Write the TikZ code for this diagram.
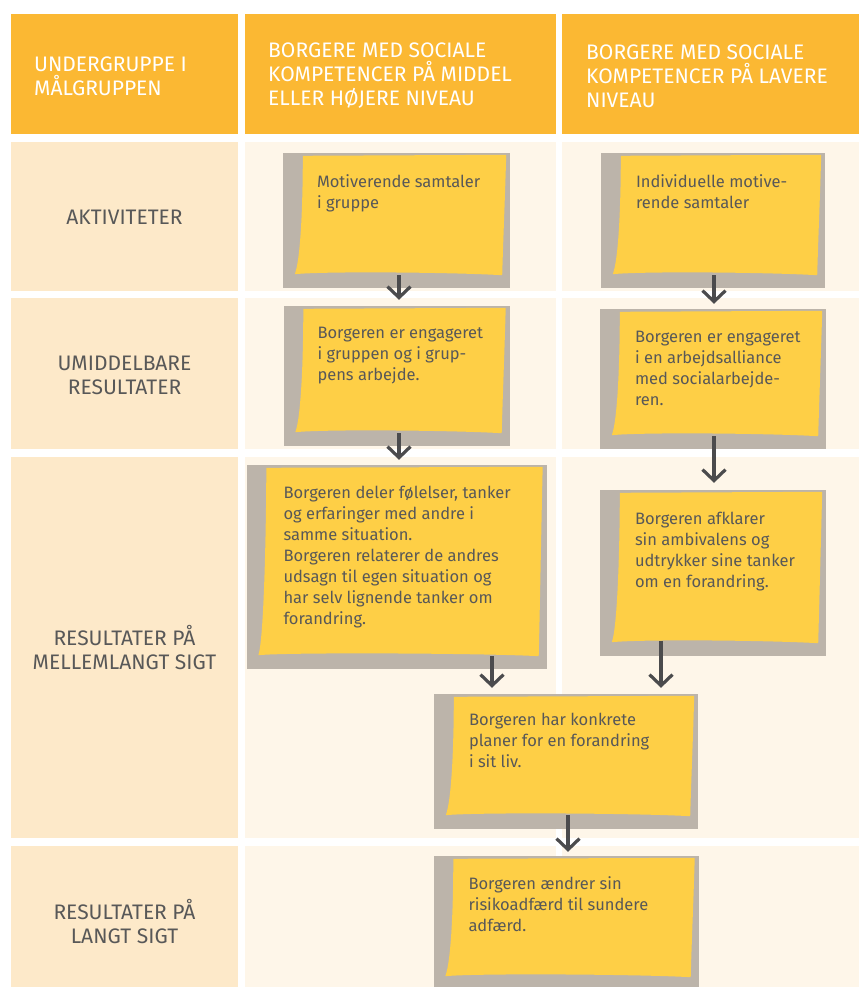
\documentclass[tikz,border=0pt]{standalone}
\usepackage{fontspec}
\setmainfont{Fira Sans}
\usepackage{tikz}
\usetikzlibrary{positioning,calc,arrows.meta}

\definecolor{hoved}{RGB}{251,184,51}
\definecolor{etiket}{RGB}{253,233,201}
\definecolor{indhold}{RGB}{254,246,233}
\definecolor{skyggegraa}{RGB}{188,180,170}
\definecolor{gul}{RGB}{254,207,70}
\definecolor{tekstgraa}{RGB}{88,88,88}
\definecolor{pilgraa}{RGB}{75,75,77}

% gul seddel oven paa den graa skygge
\newcommand{\seddel}[1]{%
  \fill[gul] ($(#1.north west)+(20,3)$) -- ($(#1.north east)+(-4,2)$)
    .. controls ($(#1.north east)+(-5,40)$) and ($(#1.south east)+(-7,-50)$) .. ($(#1.south east)+(-8,-13)$)
    .. controls ($(#1.south east)+(-60,-16)$) and ($(#1.south west)+(40,-17)$) .. ($(#1.south west)+(12,-14)$)
    .. controls ($(#1.south west)+(18,-30)$) and ($(#1.north west)+(20,50)$) .. cycle;}

\begin{document}
\begin{tikzpicture}[x=1pt, y=-1pt,
    skygge/.style={rectangle, fill=skyggegraa, inner sep=0pt},
    tekst/.style={inner sep=0pt, anchor=north west, align=left, text=tekstgraa, font=\fontsize{16.5}{21}\selectfont},
    hovedtekst/.style={inner sep=0pt, anchor=west, align=left, text=white, font=\fontsize{21}{24}\selectfont},
    etikettekst/.style={inner sep=0pt, align=center, text=tekstgraa, font=\fontsize{21}{24}\selectfont},
    pil/.style={draw=pilgraa, line width=3.2pt, -{Straight Barb[length=11pt,width=23pt]}}]
      \useasboundingbox (0,0) rectangle (859,987);

      % Overskrifter
      \fill[hoved] (11,14) rectangle (238,134);
      \fill[hoved] (245,14) rectangle (556,134);
      \fill[hoved] (562,14) rectangle (859,134);
      \node (h1) at (34,76) [hovedtekst] {UNDERGRUPPE I\\MÅLGRUPPEN};
      \node (h2) at (268,76) [hovedtekst] {BORGERE MED SOCIALE\\KOMPETENCER PÅ MIDDEL\\ELLER HØJERE NIVEAU};
      \node (h3) at (586,76) [hovedtekst] {BORGERE MED SOCIALE\\KOMPETENCER PÅ LAVERE\\NIVEAU};

      % Raekker
      \foreach \top/\bund in {142/291, 298/449, 457/838, 846/987} {
        \fill[etiket] (11,\top) rectangle (238,\bund);
        \fill[indhold] (245,\top) rectangle (556,\bund);
        \fill[indhold] (562,\top) rectangle (859,\bund);
      }
      \node (l1) at (124.5,217) [etikettekst] {AKTIVITETER};
      \node (l2) at (124.5,375) [etikettekst] {UMIDDELBARE\\RESULTATER};
      \node (l3) at (124.5,648) [etikettekst] {RESULTATER PÅ\\MELLEMLANGT SIGT};
      \node (l4) at (124.5,921.5) [etikettekst] {RESULTATER PÅ\\LANGT SIGT};

      % Sedler
      \node (n1) at (396.5,220.5) [skygge, minimum width=227pt, minimum height=135pt] {};
      \node (n2) at (713,220.5) [skygge, minimum width=224pt, minimum height=135pt] {};
      \node (n3) at (396.5,376) [skygge, minimum width=226pt, minimum height=140pt] {};
      \node (n4) at (713,379) [skygge, minimum width=226pt, minimum height=140pt] {};
      \node (n5) at (396.5,567) [skygge, minimum width=300pt, minimum height=204pt] {};
      \node (n6) at (713,573) [skygge, minimum width=226pt, minimum height=166pt] {};
      \node (n7) at (566,761.5) [skygge, minimum width=264pt, minimum height=135pt] {};
      \node (n8) at (566,923) [skygge, minimum width=265pt, minimum height=134pt] {};
      \seddel{n1} \seddel{n2} \seddel{n3} \seddel{n4}
      \seddel{n5} \seddel{n6} \seddel{n7} \seddel{n8}

      \node (t1) at ($(n1.north west)+(34,22)$) [tekst] {Motiverende samtaler\\i gruppe};
      \node (t2) at ($(n2.north west)+(35,22)$) [tekst] {Individuelle motive-\\rende samtaler};
      \node (t3) at ($(n3.north west)+(34,21)$) [tekst] {Borgeren er engageret\\i gruppen og i grup-\\pens arbejde.};
      \node (t4) at ($(n4.north west)+(35,22)$) [tekst] {Borgeren er engageret\\i en arbejdsalliance\\med socialarbejde-\\ren.};
      \node (t5) at ($(n5.north west)+(37,21)$) [tekst] {Borgeren deler følelser, tanker\\og erfaringer med andre i\\samme situation.\\Borgeren relaterer de andres\\udsagn til egen situation og\\har selv lignende tanker om\\forandring.};
      \node (t6) at ($(n6.north west)+(35,22)$) [tekst] {Borgeren afklarer\\sin ambivalens og\\udtrykker sine tanker\\om en forandring.};
      \node (t7) at ($(n7.north west)+(35,19)$) [tekst] {Borgeren har konkrete\\planer for en forandring\\i sit liv.};
      \node (t8) at ($(n8.north west)+(35,21)$) [tekst] {Borgeren ændrer sin\\risikoadfærd til sundere\\adfærd.};

      % Pile
      \draw[pil] ([xshift=2.5pt,yshift=13pt]n1.south) -- ([xshift=2.5pt,yshift=6pt]n3.north);
      \draw[pil] ([xshift=1pt,yshift=13pt]n2.south) -- ([xshift=1pt,yshift=5pt]n4.north);
      \draw[pil] ([xshift=2.5pt,yshift=13pt]n3.south) -- ([xshift=2.5pt,yshift=5pt]n5.north);
      \draw[pil] ([xshift=1pt,yshift=13pt]n4.south) -- ([xshift=1pt,yshift=7pt]n6.north);
      \draw[pil] ([xshift=95.5pt,yshift=13pt]n5.south) -- ([xshift=-74pt,yshift=6pt]n7.north);
      \draw[pil] ([xshift=-52pt,yshift=15pt]n6.south) -- ([xshift=95pt,yshift=6pt]n7.north);
      \draw[pil] ([xshift=2pt,yshift=14pt]n7.south) -- ([xshift=2pt,yshift=4pt]n8.north);
    \end{tikzpicture}
\end{document}
